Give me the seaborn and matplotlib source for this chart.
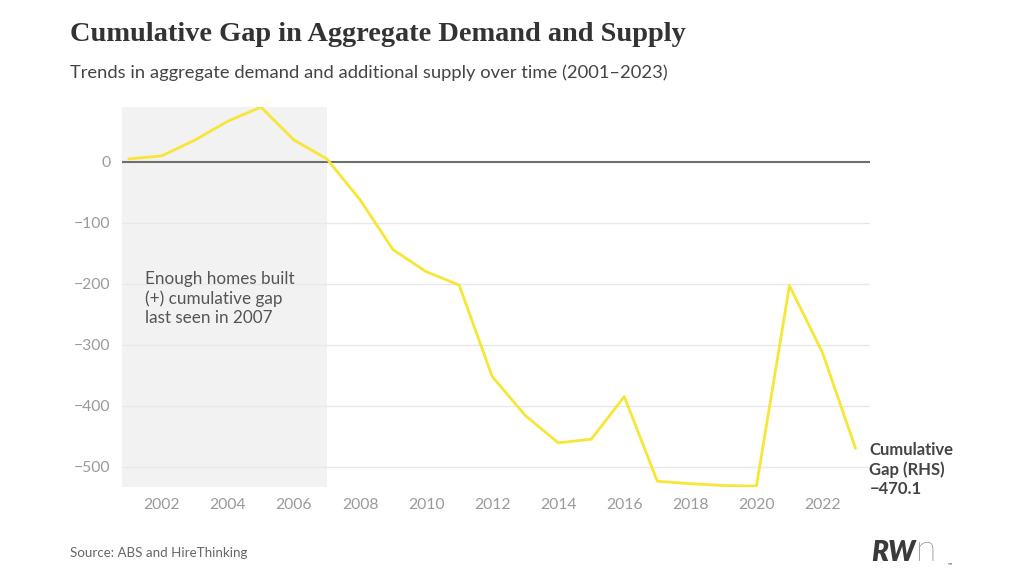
import matplotlib
matplotlib.use("Agg")
import matplotlib.pyplot as plt
import seaborn as sns
import pandas as pd

# Cumulative gap values
years = list(range(2001, 2024))
gap = [5, 10, 36, 67, 90, 36, 5, -62, -144, -180, -202, -352, -416, -461,
       -455, -385, -524, -528, -531, -532, -203, -313, -470.1]
y_ticks = [0, -100, -200, -300, -400, -500]
x_ticks = list(range(2002, 2024, 2))

df = pd.DataFrame({"year": years, "gap": gap})

sns.set_style("white")
plt.rcParams["font.family"] = ["Lato", "DejaVu Sans"]

fig = plt.figure(figsize=(10.24, 5.76), dpi=100)
ax = fig.add_axes([0.119, 0.155, 0.731, 0.659])

x_min, x_max = 2000.79, 2023.45
ax.set_xlim(x_min, x_max)
ax.set_ylim(-533, 90)

# shaded period
ax.axvspan(x_min, 2007, color="#f2f2f2", zorder=0, lw=0)

for t in y_ticks[1:]:
    ax.axhline(t, color="#e8e8e8", lw=1, zorder=1)
ax.axhline(0, color="#6e6e6e", lw=1.5, zorder=2)

sns.lineplot(data=df, x="year", y="gap", ax=ax, color="#f7e636", lw=2, zorder=3)

ax.set_xticks(x_ticks)
ax.set_yticks(y_ticks)
ax.set_yticklabels(["0" if t == 0 else "\u2212" + str(-t) for t in y_ticks])
ax.tick_params(axis="both", length=0, labelsize=11.3, colors="#9a9a9a", pad=8)
ax.set_xlabel("")
ax.set_ylabel("")
for s in ax.spines.values():
    s.set_visible(False)

ax.text(2001.48, -224, "Enough homes built\n(+) cumulative gap\nlast seen in 2007",
        fontsize=12.3, color="#555555", va="center", ha="left", linespacing=1.25)

fig.text(0.849, 0.137, "Cumulative\nGap (RHS)\n\u2212470.1", fontsize=12,
         color="#444444", fontweight="bold", va="bottom", ha="left", linespacing=1.25)

fig.text(0.068, 0.94, "Cumulative Gap in Aggregate Demand and Supply",
         family="Liberation Serif", fontweight="bold", fontsize=20.4, color="#333333",
         va="center")
fig.text(0.068, 0.873, "Trends in aggregate demand and additional supply over time (2001\u20132023)",
         fontsize=13.2, color="#444444", va="center")
fig.text(0.068, 0.04, "Source: ABS and HireThinking", fontsize=9.6, color="#666666", va="center")

fig.text(0.851, 0.04, "RW", fontsize=20, fontweight="heavy", style="italic",
         color="#3a3a3a", va="center")
fig.text(0.894, 0.044, "n", fontsize=27, fontweight="light", color="#3a3a3a", va="center")
fig.text(0.926, 0.02, "\u2122", fontsize=4, color="#3a3a3a", va="center")

fig.savefig("out.png", dpi=100, facecolor="white")
